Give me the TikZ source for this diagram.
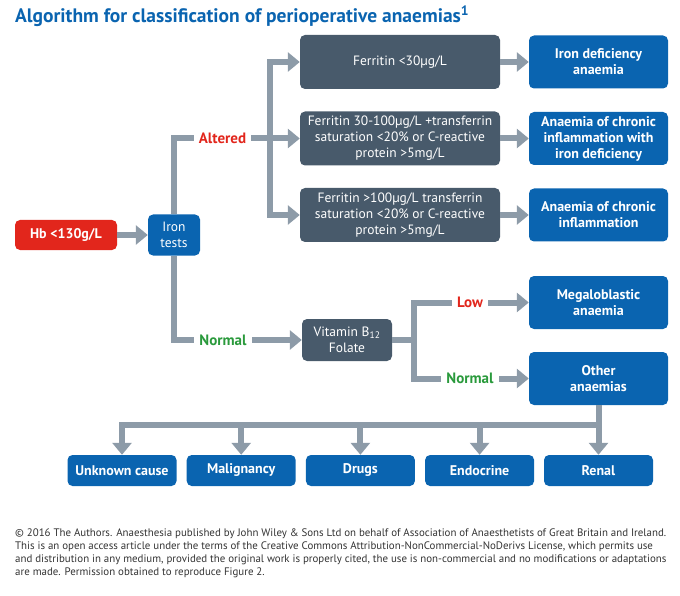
\documentclass[tikz,border=0pt]{standalone}
\usepackage{fontspec}
\setmainfont{PT Sans}
\usepackage{tikz}
\usetikzlibrary{arrows.meta}
\definecolor{boxblue}{HTML}{0A64B0}
\definecolor{boxgrey}{HTML}{485A6B}
\definecolor{linegrey}{HTML}{8D9BA8}
\definecolor{alertred}{HTML}{E2261C}
\definecolor{okgreen}{HTML}{2A9A3C}
\definecolor{notegrey}{HTML}{333333}

\begin{document}
\begin{tikzpicture}[x=1pt,y=-1pt,
  box/.style={rounded corners=5pt, text=white, align=center, inner sep=2pt, font=\fontsize{13.5}{16}\selectfont},
  bluebox/.style={box, fill=boxblue, font=\bfseries\fontsize{14}{16}\selectfont},
  greybox/.style={box, fill=boxgrey, minimum width=200pt, minimum height=54pt},
  res/.style={bluebox, minimum width=139pt, minimum height=53pt},
  cause/.style={bluebox, minimum width=109pt, minimum height=31pt},
  conn/.style={draw=linegrey, line width=6pt},
  arr/.style={conn, -{Triangle[length=12pt,width=19pt]}},
  cond/.style={fill=white, inner xsep=5pt, inner ysep=1pt, font=\bfseries\fontsize{15}{17}\selectfont}]
\useasboundingbox (0,0) rectangle (680,596);

\node[anchor=base west, text=boxblue, inner sep=0pt, font=\bfseries\fontsize{19.5}{22}\selectfont] (title) at (15,22.7)
  {Algorithm for classification of perioperative anaemias\textsuperscript{1}};

\node[box, fill=alertred, font=\bfseries\fontsize{14}{16}\selectfont, minimum width=102pt, minimum height=30pt] (hb) at (66,235) {Hb <130g/L};
\node[box, fill=boxblue, minimum width=52pt, minimum height=41pt] (it) at (174,235) {Iron\\tests};

\node[greybox] (f1) at (400,62) {Ferritin <30µg/L};
\node[greybox] (f2) at (400,138.5) {Ferritin 30-100µg/L +transferrin\\saturation <20\% or C-reactive\\protein >5mg/L};
\node[greybox] (f3) at (400,215) {Ferritin >100µg/L transferrin\\saturation <20\% or C-reactive\\protein >5mg/L};
\node[res] (r1) at (598.5,62) {Iron deficiency\\anaemia};
\node[res] (r2) at (598.5,138.5) {Anaemia of chronic\\inflammation with\\iron deficiency};
\node[res] (r3) at (598.5,215) {Anaemia of chronic\\inflammation};

\node[box, fill=boxgrey, minimum width=90pt, minimum height=42pt] (vit) at (347,340) {Vitamin B\textsubscript{12}\\Folate};
\node[res] (mega) at (598.5,302.5) {Megaloblastic\\anaemia};
\node[res] (other) at (598.5,378.5) {Other\\anaemias};

\node[cause] (c1) at (122,470.5) {Unknown cause};
\node[cause] (c2) at (241.2,470.5) {Malignancy};
\node[cause] (c3) at (360.4,470.5) {Drugs};
\node[cause] (c4) at (479.6,470.5) {Endocrine};
\node[cause] (c5) at (598.5,470.5) {Renal};

\coordinate (split) at (270,138.5);
\coordinate (vsplit) at (414,340);
\coordinate (bar) at (598.5,425);

\draw[arr] (hb) -- (it);
\draw[conn] (it.north) |- (split);
\draw[arr] (split) -- (f2);
\draw[arr] (split) |- (f1);
\draw[arr] (split) |- (f3);
\draw[arr] (it.south) |- (vit);
\draw[conn] (vit) -- (vsplit);
\draw[arr] (vsplit) |- (mega);
\draw[arr] (vsplit) |- (other);
\foreach \i in {1,2,3}
  \draw[arr] (f\i) -- (r\i);
\draw[arr] (other) -- (c5);
\foreach \c in {c1,c2,c3,c4}
  \draw[arr] (bar) -| (\c);

\node[cond, text=alertred] (altered) at (222.5,138.5) {Altered};
\node[cond, text=okgreen] (normal) at (223,340) {Normal};
\node[cond, text=alertred] (low) at (470,302.5) {Low};
\node[cond, text=okgreen] (normal2) at (470,378.5) {Normal};

\node[anchor=north west, inner sep=0pt, align=left, text=notegrey, font=\fontsize{10.9}{13}\selectfont] (note) at (15,529)
  {© 2016 The Authors. Anaesthesia published by John Wiley \& Sons Ltd on behalf of Association of Anaesthetists of Great Britain and Ireland.\\
   This is an open access article under the terms of the Creative Commons Attribution-NonCommercial-NoDerivs License, which permits use\\
   and distribution in any medium, provided the original work is properly cited, the use is non-commercial and no modifications or adaptations\\
   are made. Permission obtained to reproduce Figure 2.};
\end{tikzpicture}
\end{document}
